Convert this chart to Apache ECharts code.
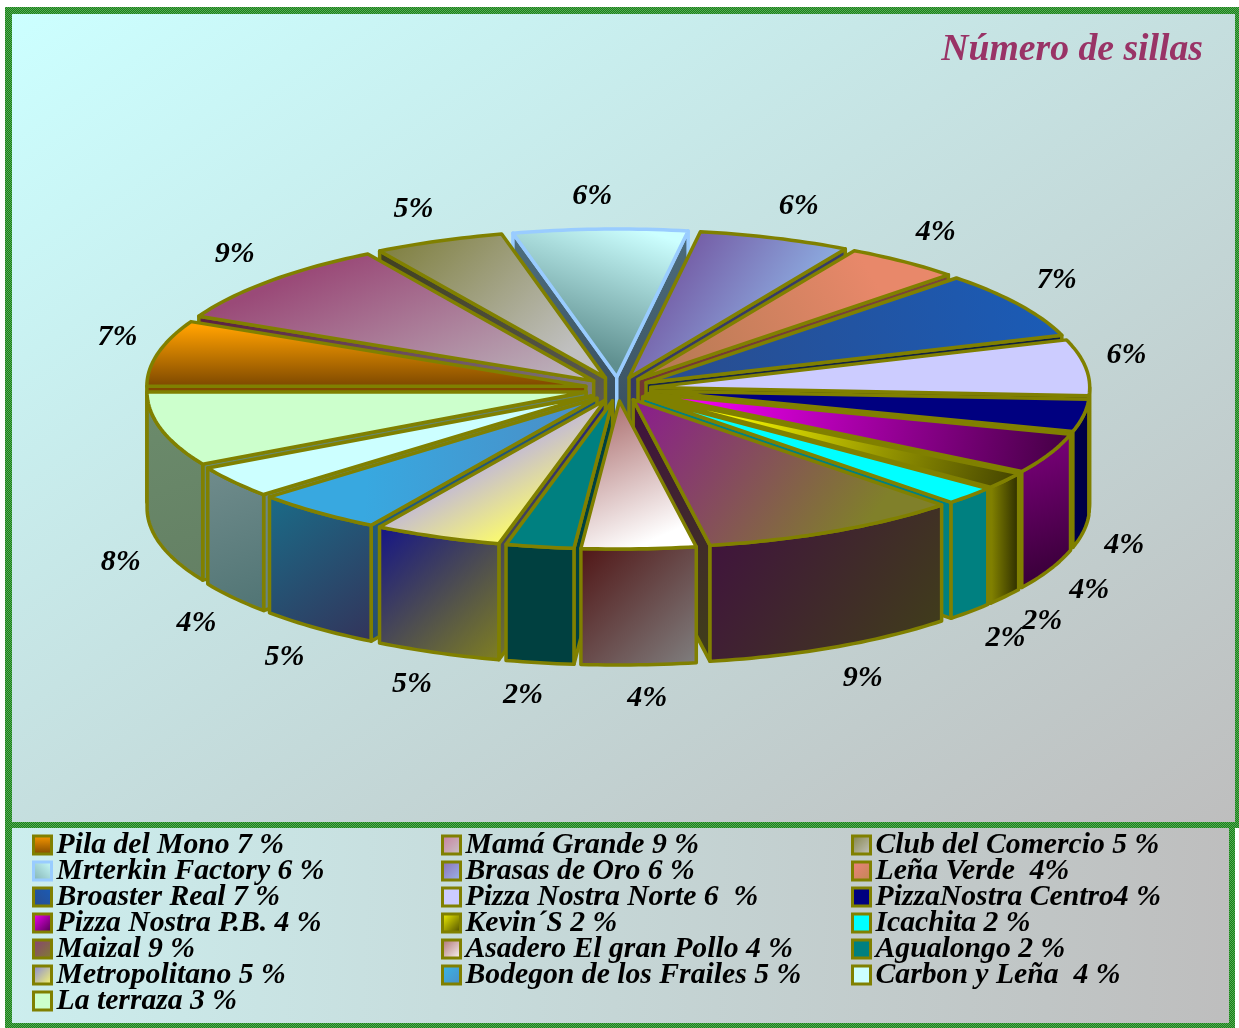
<!DOCTYPE html>
<html><head><meta charset="utf-8">
<style>html,body{margin:0;padding:0;background:#fff}#c{width:1239px;height:1028px}</style>
<script src="https://cdn.jsdelivr.net/npm/echarts@6/dist/echarts.min.js"></script>
</head><body><div id="c"></div>
<script>
const legendNames = ["Pila del Mono 7 %","Mamá Grande 9 %","Club del Comercio 5 %","Mrterkin Factory 6 %","Brasas de Oro 6 %","Leña Verde  4%","Broaster Real 7 %","Pizza Nostra Norte 6  %","PizzaNostra Centro4 %","Pizza Nostra P.B. 4 %","Kevin´S 2 %","Icachita 2 %","Maizal 9 %","Asadero El gran Pollo 4 %","Agualongo 2 %","Metropolitano 5 %","Bodegon de los Frailes 5 %","Carbon y Leña  4 %","La terraza 3 %"];
const sliceValues = [7.2,9.2,4.8,6.4,5.6,4.3,7.3,6.1,3.5,4.4,1.8,2.0,9.6,4.2,2.5,4.7,4.8,3.5,8.1];
const percentLabels = ["7%","9%","5%","6%","6%","4%","7%","6%","4%","4%","2%","2%","9%","4%","2%","5%","5%","4%","8%"];
const titleText = "Número de sillas";

// [colour1, colour2, x, y, x2, y2] : gradient of each face
const topFills = [
 ["#FFA000","#7A4600",0,0.1,0,1],["#9A4A78","#BDB6BD",0.2,0.25,0.4,1.7],["#808040","#C0C0C0",0.1,0,0.7,1],
 ["#CCFFFF","#5F8F8F",0.7,0,0.45,0.85],["#6A3A8C","#8CAADF",0,0,0.7,0.7],["#B07850","#E8886A",0,1,0.7,0],
 ["#2A4C8C","#1A5CB8",0,1,1,0],["#CCCCFF","#CCCCFF",0,0,1,0],["#000080","#000080",0,0,1,0],
 ["#FF00FF","#400040",0.05,0,1,1],["#FFFF00","#404000",0.2,0,1,1],["#00FFFF","#00FFFF",0,0,1,0],
 ["#8A1F8A","#80802A",0.05,0,0.7,1],["#A86868","#FFFFFF",0.2,0,0.7,0.9],["#008080","#008080",0,0,1,0],
 ["#C8C0CC","#FFFF66",0,0.9,0.16,1.35],["#38A8E0","#4C8CC4",0.3,0.5,1,0.6],["#CCFFFF","#CCFFFF",0,0,1,0],["#CCFFCC","#CCFFCC",0,0,1,0]];
const wallFills = [
 ["#804A00","#804A00",0,0,1,0],["#5A2040","#808080",0,0,1,1],["#404020","#606060",0,0,1,1],
 ["#4F7080","#2F4050",0,0,1,1],["#303060","#404C70",0,0,1,1],["#703030","#805040",0,0,1,1],
 ["#182848","#102038",0,0,1,1],["#1A1A20","#303010",0,0,1,1],["#000050","#000040",0,0,1,0],
 ["#800080","#300030",0,0,1,1],["#8A8A00","#282800",0,0,1,0],["#008080","#008080",0,0,1,0],
 ["#401040","#404018",0,0,1,1],["#501414","#808080",0,0,1,1],["#004040","#004040",0,0,1,0],
 ["#141488","#808020",0,0,1,1],["#1A6C88","#33335A",0,0,1,1],["#708C8C","#507474",0,0,1,1],["#6C8C6C","#648064",0,0,1,1]];
const legendFills = [
 ["#FF9C00","#7A4600",0,0,0,1],["#C87A9C","#C8C8C8",0,0,1,1],["#808040","#C8C8C8",0,0,1,1],
 ["#CCFFFF","#7FAFAF",1,0,0,1],["#8A6AB0","#9CBAEF",0,0,1,1],["#F08080","#C08850",0,0,1,1],
 ["#2A4C8C","#1A5CB8",0,1,1,0],["#CCCCFF","#CCCCFF",0,0,1,0],["#000080","#000080",0,0,1,0],
 ["#FF00FF","#400040",0,0,1,1],["#FFFF00","#404000",0,0,1,1],["#00FFFF","#00FFFF",0,0,1,0],
 ["#8A3F7A","#80802A",0,0,1,1],["#A86868","#FFFFFF",0,0,1,1],["#008080","#008080",0,0,1,0],
 ["#8080E0","#FFFF66",0,0,1,1],["#38B8E8","#4C8CC4",0,0,1,1],["#CCFFFF","#CCFFFF",0,0,1,0],["#CCFFCC","#CCFFCC",0,0,1,0]];
const borderColors = legendNames.map((n,i)=>i===3?"#99CCFF":"#808000");

const PIE = {cx:618, cy:389, rx:439, ry:148, ex:33, ey:12, depth:116};
const total = sliceValues.reduce((a,b)=>a+b,0);
const starts = []; sliceValues.reduce((a,v,i)=>(starts[i]=a,a+v),0);
const toAngle = v => v/total*Math.PI*2;
const grad = f => new echarts.graphic.LinearGradient(f[2],f[3],f[4],f[5],[{offset:0,color:f[0]},{offset:1,color:f[1]}]);
const mids = sliceValues.map((v,i)=>toAngle(starts[i]+v/2));
const order = mids.map((m,i)=>i).sort((a,b)=>Math.sin(mids[b])-Math.sin(mids[a]));

function renderSlice(i){ return function(params, api){
  const v = api.value(0), a0 = toAngle(starts[i]), a1 = a0+toAngle(v), m=(a0+a1)/2;
  const ax = PIE.cx-PIE.ex*Math.cos(m), ay = PIE.cy-PIE.ey*Math.sin(m);
  const pt = (a,d)=>[ax-PIE.rx*Math.cos(a), ay-PIE.ry*Math.sin(a)+(d||0)];
  const arc = (s,e,d)=>{const n=Math.max(2,Math.ceil((e-s)/0.02)),p=[];for(let k=0;k<=n;k++)p.push(pt(s+(e-s)*k/n,d));return p;};
  const stroke = {stroke:borderColors[i], lineWidth:3.5, lineJoin:'round'};
  const wallStyle = Object.assign({fill:grad(wallFills[i])},stroke);
  const kids=[];
  const D=PIE.depth;
  if(Math.cos(a0)>0){const r=pt(a0);kids.push({type:'polygon',shape:{points:[[ax,ay],r,[r[0],r[1]+D],[ax,ay+D]]},style:wallStyle});}
  if(Math.cos(a1)<0){const r=pt(a1);kids.push({type:'polygon',shape:{points:[[ax,ay],r,[r[0],r[1]+D],[ax,ay+D]]},style:wallStyle});}
  const s=Math.max(a0,Math.PI), e=Math.min(a1,Math.PI*2);
  if(e>s){kids.push({type:'polygon',shape:{points:arc(s,e,0).concat(arc(s,e,D).reverse())},style:wallStyle});}
  kids.push({type:'polygon',shape:{points:[[ax,ay]].concat(arc(a0,a1,0))},style:Object.assign({fill:grad(topFills[i])},stroke)});
  // percent label
  const c=-Math.cos(m), sn=-Math.sin(m), rimx=PIE.cx+472*c, rimy=PIE.cy+160*sn+(sn>0?D:0);
  kids.push({type:'text',x:rimx+41*Math.sign(c)*Math.sqrt(Math.abs(c)),y:rimy+33*Math.sign(sn)*Math.sqrt(Math.abs(sn)),
    style:{text:percentLabels[i],fill:'#000',font:'italic bold 30px "Liberation Serif"',align:'center',verticalAlign:'middle'}});
  return {type:'group',children:kids};
};}

const series = legendNames.map((name,i)=>({type:'custom',name,coordinateSystem:'none',silent:true,
  z:3+order.indexOf(i),animation:false,data:[[sliceValues[i]]],renderItem:renderSlice(i)}));

const legends = [0,1,2].map(col=>({
  orient:'vertical',left:[32,441,851][col],top:830,padding:0,itemGap:-4,itemWidth:18,itemHeight:18,selectedMode:false,
  textStyle:{color:'#000',fontFamily:'Liberation Serif',fontStyle:'italic',fontWeight:'bold',fontSize:29.7,padding:0},
  data:legendNames.map((name,i)=>({name,i})).filter(d=>d.i%3===col).map(d=>({name:d.name,icon:'rect',
    itemStyle:{color:grad(legendFills[d.i]),borderColor:borderColors[d.i],borderWidth:3}}))
}));

const hatch=document.createElement('canvas');hatch.width=2;hatch.height=2;
(function(){const g=hatch.getContext('2d');g.fillStyle='#1A801A';g.fillRect(0,0,2,2);g.fillStyle='#55AA55';g.fillRect(0,0,1,1);g.fillRect(1,1,1,1);})();
const band={image:hatch,repeat:'repeat'};
const rect=(x,y,w,h,fill)=>({type:'rect',silent:true,shape:{x,y,width:w,height:h},style:{fill},z:0});
const panelGrad=new echarts.graphic.LinearGradient(0,0,0.613,1.388,[{offset:0,color:'#CCFFFF'},{offset:1,color:'#BEBEBE'}]);
const legendGrad=new echarts.graphic.LinearGradient(0,0,1,0.25,[{offset:0,color:'#CCEEEE'},{offset:1,color:'#BEBEBE'}]);

const chart=echarts.init(document.getElementById('c'),null,{renderer:'canvas'});
chart.setOption({
  animation:false,backgroundColor:'#fff',
  title:{text:titleText,right:36,top:31,padding:0,textStyle:{color:'#993366',fontFamily:'Liberation Serif',fontStyle:'italic',fontWeight:'bold',fontSize:37.7}},
  legend:legends,
  graphic:{elements:[
    rect(12,14,1223,810,panelGrad),rect(12,828,1217,195,legendGrad),
    rect(5,7,1234,7,band),rect(5,1023,1230,5,band),rect(5,7,7,1021,band),rect(1235,7,4,816,band),rect(1229,823,6,205,band),rect(5,822,1234,6,band)
  ]},
  series
});
</script></body></html>
